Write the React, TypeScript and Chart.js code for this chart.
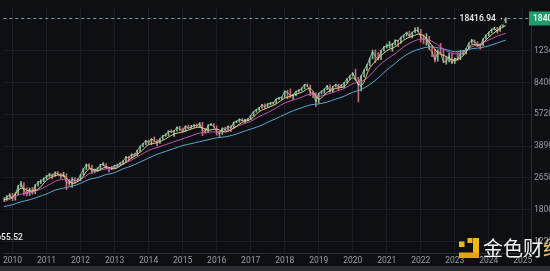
import React, { useEffect, useRef } from "react";
import { Chart, registerables } from "chart.js";

Chart.register(...registerables);

// ---- data (monthly candles, Oct 2009 .. Jul 2024) ----
const startMonth = 2009.75;
const closes = [
  2056, 2105, 2155,
  2056, 2180, 2395, 2481, 2285, 2180, 2312, 2206, 2423, 2510, 2540, 2630,
  2693, 2757, 2725, 2822, 2789, 2693, 2757, 2510, 2481, 2600, 2570, 2570,
  2757, 2958, 3100, 3063, 2856, 2923, 2958, 3100, 3136, 2993, 2958, 2993,
  3063, 3100, 3173, 3249, 3405, 3365, 3526, 3485, 3696, 3873, 4012, 4156,
  4060, 4254, 4156, 4060, 4254, 4407, 4458, 4673, 4618, 4673, 4897, 4783,
  4673, 4955, 4840, 4897, 5013, 4955, 5132, 4728, 4618, 5013, 5072, 4955,
  4618, 4511, 4840, 4728, 4955, 4840, 5193, 5254, 5379, 5316, 5316, 5379,
  5637, 5907, 6047, 6191, 6412, 6264, 6488, 6564, 6564, 6879, 6960, 7042,
  7556, 7468, 7209, 7209, 7556, 7645, 7826, 8202, 8106, 7468, 7381, 6641,
  7381, 7556, 7735, 8106, 7556, 8012, 8202, 8012, 8106, 8396, 8799, 9114,
  9441, 8799, 8106, 9114, 9779, 10370, 11256, 12219, 11523, 11125, 12363, 12956,
  13109, 13264, 13264, 14064, 13900, 14567, 14914, 15447, 14740, 15447, 15813, 15813,
  14567, 14064, 14567, 12656, 12219, 10995, 12219, 12077, 10741, 10867, 11523, 10616,
  11256, 11125, 11936, 11936, 12656, 13578, 14064, 13738, 13264, 13109, 14230, 14914,
  15447, 16000, 16188, 15629, 16573, 17368, 18402.61,
];
const highs = [
  2090, 2140, 2190,
  2200, 2210, 2420, 2540, 2500, 2350, 2340, 2360, 2440, 2545, 2590, 2650,
  2730, 2800, 2780, 2850, 2860, 2800, 2830, 2780, 2600, 2660, 2650, 2630,
  2770, 2975, 3140, 3150, 3090, 2950, 3000, 3120, 3190, 3150, 3010, 3040,
  3090, 3130, 3190, 3270, 3440, 3450, 3550, 3570, 3710, 3900, 4030, 4170,
  4190, 4270, 4350, 4200, 4270, 4420, 4520, 4690, 4740, 4700, 4920, 4950,
  4850, 4970, 5020, 5010, 5060, 5080, 5180, 5190, 4830, 5040, 5120, 5120,
  4970, 4650, 4860, 4900, 4970, 5010, 5210, 5290, 5420, 5430, 5400, 5440,
  5650, 5920, 6080, 6230, 6450, 6500, 6520, 6600, 6640, 6900, 7030, 7080,
  7600, 7640, 7790, 7300, 7580, 7720, 7880, 8220, 8270, 8150, 7500, 7420,
  7400, 7600, 7780, 8130, 8180, 8040, 8260, 8240, 8200, 8420, 8820, 9140,
  9480, 9900, 8950, 9180, 9800, 10450, 11300, 12450, 12500, 12100, 12400, 13000,
  13400, 13800, 13500, 14100, 14080, 14600, 15000, 15500, 15700, 15500, 16300, 16400,
  16000, 15000, 15200, 14700, 13100, 12600, 12500, 13500, 12600, 11400, 12000, 12000,
  11300, 12100, 12400, 12400, 12700, 13600, 14200, 14100, 13800, 13400, 14300, 15000,
  15500, 16100, 16400, 16400, 16600, 17450, 18416.94,
];
const lows = [
  1985, 2030, 2090,
  2010, 2020, 2165, 2370, 2150, 2130, 2140, 2170, 2190, 2400, 2470, 2520,
  2600, 2670, 2620, 2700, 2740, 2630, 2680, 2300, 2400, 2360, 2480, 2520,
  2560, 2740, 2940, 2980, 2800, 2810, 2860, 2940, 3070, 2950, 2850, 2930,
  2980, 3030, 3080, 3120, 3230, 3280, 3350, 3450, 3470, 3640, 3850, 3960,
  3990, 3960, 4100, 3900, 4020, 4230, 4380, 4420, 4580, 4380, 4660, 4700,
  4600, 4650, 4800, 4820, 4880, 4930, 4880, 4420, 4540, 4590, 4980, 4890,
  4450, 4330, 4490, 4690, 4680, 4640, 4820, 5170, 5210, 5270, 5150, 5280,
  5360, 5620, 5880, 5990, 6170, 6140, 6230, 6400, 6460, 6550, 6850, 6860,
  7030, 6900, 6980, 6860, 7150, 7480, 7600, 7780, 8020, 7180, 7000, 6280,
  6540, 7320, 7400, 7720, 7480, 7450, 7980, 7720, 7890, 7900, 8380, 8740,
  9080, 8650, 6640, 7600, 9000, 9700, 10300, 11200, 10700, 11050, 11100, 12300,
  12800, 12800, 12300, 13200, 13000, 13500, 14400, 14800, 14600, 14450, 15400, 15500,
  13700, 13400, 13200, 12500, 11500, 10800, 10900, 12000, 10700, 10500, 10800, 10600,
  10600, 11000, 11100, 11700, 11900, 12600, 13500, 13500, 13000, 12600, 13100, 14200,
  14800, 15400, 15900, 15300, 15600, 16500, 17300,
];

// ---- moving averages (quarterly readings, Q4 2009 .. Q3 2024) ----
const maStart = 2009.75;
const maShort = [
  2032, 2105, 2340, 2259, 2312, 2570, 2725, 2725, 2481, 2600,
  2958, 2889, 3028, 2958, 3136, 3365, 3611, 3965, 4060, 4254,
  4511, 4618, 4783, 4897, 4728, 4783, 4618, 4840, 5193, 5379,
  5907, 6191, 6488, 6960, 7209, 7468, 7826, 6879, 7468, 7826,
  8012, 8903, 8106, 10011, 11256, 12363, 12956, 14064, 14740, 15089,
  13738, 12077, 11523, 10995, 11659, 13264, 13264, 14567, 15813, 16769,
];
const maMid = [
  1985, 2080, 2180, 2206, 2285, 2395, 2540, 2600, 2540, 2600,
  2789, 2889, 2958, 2993, 3136, 3287, 3485, 3696, 3828, 3965,
  4107, 4254, 4407, 4564, 4618, 4618, 4673, 4840, 5072, 5254,
  5571, 5838, 6191, 6564, 6799, 7042, 7295, 7125, 7295, 7556,
  7826, 8299, 8495, 9114, 10248, 11125, 11936, 12956, 13738, 14230,
  14064, 13264, 12363, 11936, 12077, 12956, 13420, 14064, 14740, 15267,
];
const maLong = [
  1872, 1916, 1985, 2032, 2105, 2180, 2285, 2340, 2395, 2481,
  2600, 2661, 2757, 2822, 2958, 3063, 3211, 3365, 3526, 3653,
  3784, 3919, 4012, 4107, 4205, 4304, 4355, 4458, 4618, 4783,
  4955, 5193, 5442, 5703, 5977, 6191, 6412, 6488, 6641, 6879,
  7125, 7468, 7735, 8202, 8903, 9779, 10616, 11523, 12219, 12656,
  12956, 12805, 12509, 12219, 12363, 12656, 12805, 13109, 13578, 14064,
];

// ---- axes ----
const yearTicks = [2010, 2011, 2012, 2013, 2014, 2015, 2016, 2017, 2018, 2019, 2020, 2021, 2022, 2023, 2024, 2025];
const priceTicks = [12340, 8400, 5720, 3890, 2650, 1800, 1225];
const priceTickLabels = ["12340.00", "8400.00", "5720.00", "3890.00", "2650.00", "1800.00", "1225.00"];
const highMark = 18416.94;
const lowMark = 1655.52;
const watermark = "金色财经";

const X_MIN = 2009.728;
const X_MAX = 2025.241;
const Y_MIN = 1067;
const Y_MAX = 20708;

const BG = "#0e0f13";
const GRID = "#1c1e23";
const AXIS = "#2b2d32";
const LABEL = "#9a9ca2";
const FONT = "Roboto, 'Noto Sans', sans-serif";

export default function App() {
  const ref = useRef<HTMLCanvasElement | null>(null);

  useEffect(() => {
    document.body.style.margin = "0";
    document.body.style.background = BG;
    const canvas = ref.current;
    if (!canvas) return;

    const monthX = closes.map((_, i) => startMonth + i / 12);
    const candleColors = closes.map((c, i) =>
      i === 0 || c >= closes[i - 1] ? "rgba(150,215,175,0.85)" : "rgba(226,110,128,0.9)"
    );
    const maPoints = (arr: number[]) => arr.map((v, i) => ({ x: maStart + i / 4, y: v }));

    const bgPlugin = {
      id: "bgPlugin",
      beforeDraw(chart: any) {
        const { ctx, width, height } = chart;
        ctx.save();
        ctx.fillStyle = BG;
        ctx.fillRect(0, 0, width, height);
        ctx.fillStyle = "#2c2d32";
        ctx.fillRect(0, 266, width, height - 266);
        ctx.restore();
      },
    };

    const overlayPlugin = {
      id: "overlayPlugin",
      afterDraw(chart: any) {
        const { ctx, chartArea, scales, width } = chart;
        const xs = scales.x;
        const ys = scales.y;
        ctx.save();
        const hy = Math.round(ys.getPixelForValue(highMark)) + 0.5;
        ctx.strokeStyle = "#76a59c";
        ctx.lineWidth = 1;
        ctx.setLineDash([3, 3]);
        ctx.beginPath();
        ctx.moveTo(chartArea.left, hy);
        ctx.lineTo(chartArea.right, hy);
        ctx.stroke();
        ctx.setLineDash([]);
        const hx = xs.getPixelForValue(monthX[monthX.length - 1]);
        ctx.font = `500 8.5px ${FONT}`;
        const txt = highMark.toFixed(2);
        const tw = ctx.measureText(txt).width;
        const tr = hx - 10;
        ctx.fillStyle = BG;
        ctx.fillRect(tr - tw - 3, hy - 6, tw + 11, 12);
        ctx.fillStyle = "#f2f2f2";
        ctx.textBaseline = "middle";
        ctx.textAlign = "right";
        ctx.fillText(txt, tr, hy);
        ctx.fillRect(tr + 5, hy - 0.5, 1.2, 1.2);
        const lp = closes[closes.length - 1];
        ctx.fillStyle = "#1f9e6c";
        ctx.fillRect(chartArea.right - 2, hy - 7, width - chartArea.right + 2, 14);
        ctx.fillStyle = "#ffffff";
        ctx.textAlign = "left";
        ctx.fillText(lp.toFixed(2), chartArea.right + 2, hy);
        ctx.font = `500 8.5px ${FONT}`;
        ctx.fillStyle = "#eeeeee";
        ctx.textAlign = "right";
        ctx.fillText(lowMark.toFixed(2), chartArea.left + 19.5, 238);
        ctx.fillStyle = "#f2b516";
        ctx.fillRect(459, 241.5, 5.5, 5.5);
        ctx.fillRect(467.5, 238, 5, 5);
        ctx.fillRect(473, 238, 6, 20);
        ctx.fillStyle = "#e9a214";
        ctx.fillRect(459, 252.5, 20, 5.5);
        ctx.font = `20px 'Noto Sans CJK SC', sans-serif`;
        ctx.textAlign = "left";
        ctx.textBaseline = "middle";
        ctx.fillStyle = "rgba(255,255,255,0.95)";
        ctx.fillText(watermark.slice(0, 3), 483, 248);
        const w3 = ctx.measureText(watermark.slice(0, 3)).width;
        ctx.fillStyle = "#e8c46a";
        ctx.fillText(watermark.slice(3), 483 + w3, 248);
        ctx.restore();
      },
    };

    const line = (data: any[], color: string, order: number, width = 1) =>
      ({
        type: "line",
        data,
        borderColor: color,
        borderWidth: width,
        pointRadius: 0,
        tension: 0.35,
        fill: false,
        order,
      } as any);

    const chart = new Chart(canvas, {
      type: "bar",
      data: {
        datasets: [
          line(maPoints(maShort), "#e8d27c", 1),
          line(maPoints(maMid), "#c455b4", 2),
          line(maPoints(maLong), "#5aa7d6", 3),
          {
            type: "line",
            data: monthX.map((x, i) => ({ x, y: closes[i] })),
            borderColor: "rgba(175,225,190,0.75)",
            borderWidth: 1,
            pointRadius: 0,
            tension: 0,
            fill: false,
            order: 4,
          } as any,
          {
            type: "bar",
            data: monthX.map((x, i) => ({ x, y: [lows[i], highs[i]] })),
            backgroundColor: candleColors,
            barThickness: 1,
            grouped: false,
            order: 5,
          } as any,
        ],
      },
      options: {
        animation: false,
        responsive: false,
        devicePixelRatio: 1,
        layout: { padding: 0 },
        plugins: { legend: { display: false }, tooltip: { enabled: false } },
        scales: {
          x: {
            type: "linear",
            min: X_MIN,
            max: X_MAX,
            offset: false,
            grid: { color: GRID, drawTicks: false, offset: false },
            border: { color: AXIS },
            ticks: {
              autoSkip: false,
              maxRotation: 0,
              padding: 3,
              color: LABEL,
              font: { family: FONT, size: 8.5 },
              callback: (v: any) => String(v),
            },
            afterBuildTicks: (axis: any) => {
              axis.ticks = yearTicks.map((v) => ({ value: v }));
            },
            afterFit: (axis: any) => {
              axis.height = 18;
            },
          },
          y: {
            type: "logarithmic",
            position: "right",
            min: Y_MIN,
            max: Y_MAX,
            grid: { color: GRID, drawTicks: false },
            border: { color: AXIS },
            ticks: {
              padding: 3,
              color: LABEL,
              font: { family: FONT, size: 8.5 },
              callback: (v: any) => {
                const i = priceTicks.indexOf(Number(v));
                return i >= 0 ? priceTickLabels[i] : "";
              },
            },
            afterBuildTicks: (axis: any) => {
              axis.ticks = priceTicks.map((v) => ({ value: v }));
            },
            afterFit: (axis: any) => {
              axis.width = 19;
            },
          },
        },
      } as any,
      plugins: [bgPlugin, overlayPlugin],
    });

    return () => chart.destroy();
  }, []);

  return (
    <div style={{ width: 550, height: 271, background: BG }}>
      <canvas ref={ref} width={550} height={271} style={{ display: "block" }} />
    </div>
  );
}
